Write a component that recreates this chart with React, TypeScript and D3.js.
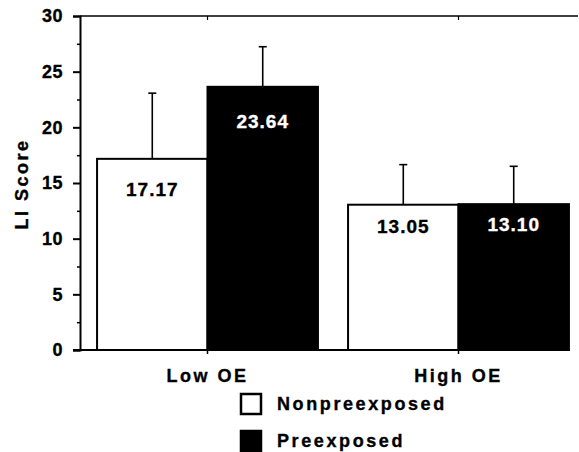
import React, { useEffect, useRef } from "react";
import * as d3 from "d3";

const groups = ["Low OE", "High OE"];
const series = ["Nonpreexposed", "Preexposed"];
const nonpreMeans = [17.17, 13.05];
const preMeans = [23.64, 13.1];
const nonpreErr = [5.9, 3.6];
const preErr = [3.6, 3.4];
const yTicks = [0, 5, 10, 15, 20, 25, 30];
const yMinorTicks = [2.5, 7.5, 12.5, 17.5, 22.5, 27.5];
const seriesFill = ["#ffffff", "#000000"];
const labelFill = ["#000000", "#ffffff"];
// how far below the bar top each value label sits
const labelDrop = [[31, 35], [22, 20]];

const W = 579;
const H = 452;
const font = "'Liberation Sans', Arial, Helvetica, sans-serif";

export default function App() {
  const ref = useRef<SVGSVGElement>(null);

  useEffect(() => {
    const svg = d3.select(ref.current);
    svg.selectAll("*").remove();

    const left = 80, right = 578, top = 16, bottom = 350;

    const y = d3.scaleLinear().domain([0, 30]).range([bottom, top]);
    const x0 = d3.scaleBand().domain(groups).range([82, 584]).paddingInner(0.12).paddingOuter(0.06);
    const x1 = d3.scaleBand().domain(series).range([0, x0.bandwidth()]);

    const rows = groups.flatMap((g, i) => [
      { g, s: series[0], v: nonpreMeans[i], e: nonpreErr[i], k: 0, drop: labelDrop[i][0] },
      { g, s: series[1], v: preMeans[i], e: preErr[i], k: 1, drop: labelDrop[i][1] },
    ]);

    // heavier text like the scanned original
    const heavy = (sel: any, color = "#000") =>
      sel.attr("font-family", font).attr("font-weight", "bold")
        .attr("fill", color).attr("stroke", color).attr("stroke-width", 0.35);

    // top frame line
    svg.append("line")
      .attr("x1", left).attr("x2", right).attr("y1", top).attr("y2", top)
      .attr("stroke", "#000").attr("stroke-width", 1.5);
    svg.selectAll(".toptick").data(groups).enter().append("line")
      .attr("x1", d => x0(d)! + x0.bandwidth() / 2).attr("x2", d => x0(d)! + x0.bandwidth() / 2)
      .attr("y1", top).attr("y2", top + 4)
      .attr("stroke", "#000").attr("stroke-width", 1.2);

    // error bars (drawn first so bar covers lower part)
    const eb = svg.append("g");
    rows.forEach(r => {
      const cx = x0(r.g)! + x1(r.s)! + x1.bandwidth() / 2;
      eb.append("line")
        .attr("x1", cx).attr("x2", cx).attr("y1", y(r.v)).attr("y2", y(r.v + r.e))
        .attr("stroke", "#000").attr("stroke-width", 1.6);
      eb.append("line")
        .attr("x1", cx - 4).attr("x2", cx + 4).attr("y1", y(r.v + r.e)).attr("y2", y(r.v + r.e))
        .attr("stroke", "#000").attr("stroke-width", 1.6);
    });

    // bars
    svg.append("g").selectAll("rect").data(rows).enter().append("rect")
      .attr("x", d => x0(d.g)! + x1(d.s)!)
      .attr("y", d => y(d.v))
      .attr("width", x1.bandwidth())
      .attr("height", d => y(0) - y(d.v))
      .attr("fill", d => seriesFill[d.k])
      .attr("stroke", "#000")
      .attr("stroke-width", 2);

    // value labels
    svg.append("g").selectAll("text").data(rows).enter().append("text")
      .attr("x", d => x0(d.g)! + x1(d.s)! + x1.bandwidth() / 2)
      .attr("y", d => y(d.v) + d.drop)
      .attr("dy", "0.35em")
      .attr("text-anchor", "middle")
      .attr("font-family", font)
      .attr("font-weight", "bold")
      .attr("font-size", 19)
      .attr("letter-spacing", 1)
      .attr("fill", d => labelFill[d.k])
      .attr("stroke", d => labelFill[d.k])
      .attr("stroke-width", 0.35)
      .text(d => d.v.toFixed(2));

    // y axis
    const yAxis = d3.axisLeft(y).tickValues(yTicks).tickSize(7).tickPadding(10).tickFormat(d3.format("d"));
    const ya = svg.append("g").attr("transform", `translate(${left},0)`).call(yAxis);
    ya.select(".domain").attr("stroke-width", 2);
    ya.selectAll(".tick line").attr("stroke-width", 2);
    heavy(ya.selectAll("text")).attr("font-size", 18).attr("letter-spacing", 0.5);
    const ym = svg.append("g").attr("transform", `translate(${left},0)`)
      .call(d3.axisLeft(y).tickValues(yMinorTicks).tickSize(3).tickFormat(() => ""));
    ym.select(".domain").remove();
    ym.selectAll(".tick line").attr("stroke-width", 1.5);

    // x baseline and ticks
    svg.append("line")
      .attr("x1", left - 7).attr("x2", right - 8).attr("y1", bottom).attr("y2", bottom)
      .attr("stroke", "#000").attr("stroke-width", 2);
    svg.selectAll(".xtick").data(groups).enter().append("line")
      .attr("x1", d => x0(d)! + x0.bandwidth() / 2).attr("x2", d => x0(d)! + x0.bandwidth() / 2)
      .attr("y1", bottom).attr("y2", bottom + 4)
      .attr("stroke", "#000").attr("stroke-width", 1.5);
    heavy(svg.selectAll(".xlab").data(groups).enter().append("text")
      .attr("x", d => x0(d)! + x0.bandwidth() / 2)
      .attr("y", 376)
      .attr("dy", "0.35em")
      .attr("text-anchor", "middle")
      .attr("font-size", 18)
      .attr("letter-spacing", 2.5)
      .text(d => d));

    // y title
    heavy(svg.append("text")
      .attr("transform", "translate(22,184) rotate(-90)")
      .attr("dy", "0.35em")
      .attr("text-anchor", "middle")
      .attr("font-size", 18)
      .attr("letter-spacing", 2.5)
      .text("LI Score"));

    // legend
    const lg = svg.append("g");
    series.forEach((s, i) => {
      const cy = 404 + i * 37;
      lg.append("rect")
        .attr("x", 241).attr("y", cy - 10).attr("width", 20).attr("height", 20)
        .attr("fill", seriesFill[i]).attr("stroke", "#000").attr("stroke-width", 2.5);
      heavy(lg.append("text")
        .attr("x", 277).attr("y", cy).attr("dy", "0.35em")
        .attr("font-size", 18)
        .attr("letter-spacing", 2.6)
        .text(s));
    });
  }, []);

  return (
    <svg
      ref={ref}
      width={W}
      height={H}
      style={{ position: "absolute", left: 0, top: 0, background: "#fff" }}
    />
  );
}
